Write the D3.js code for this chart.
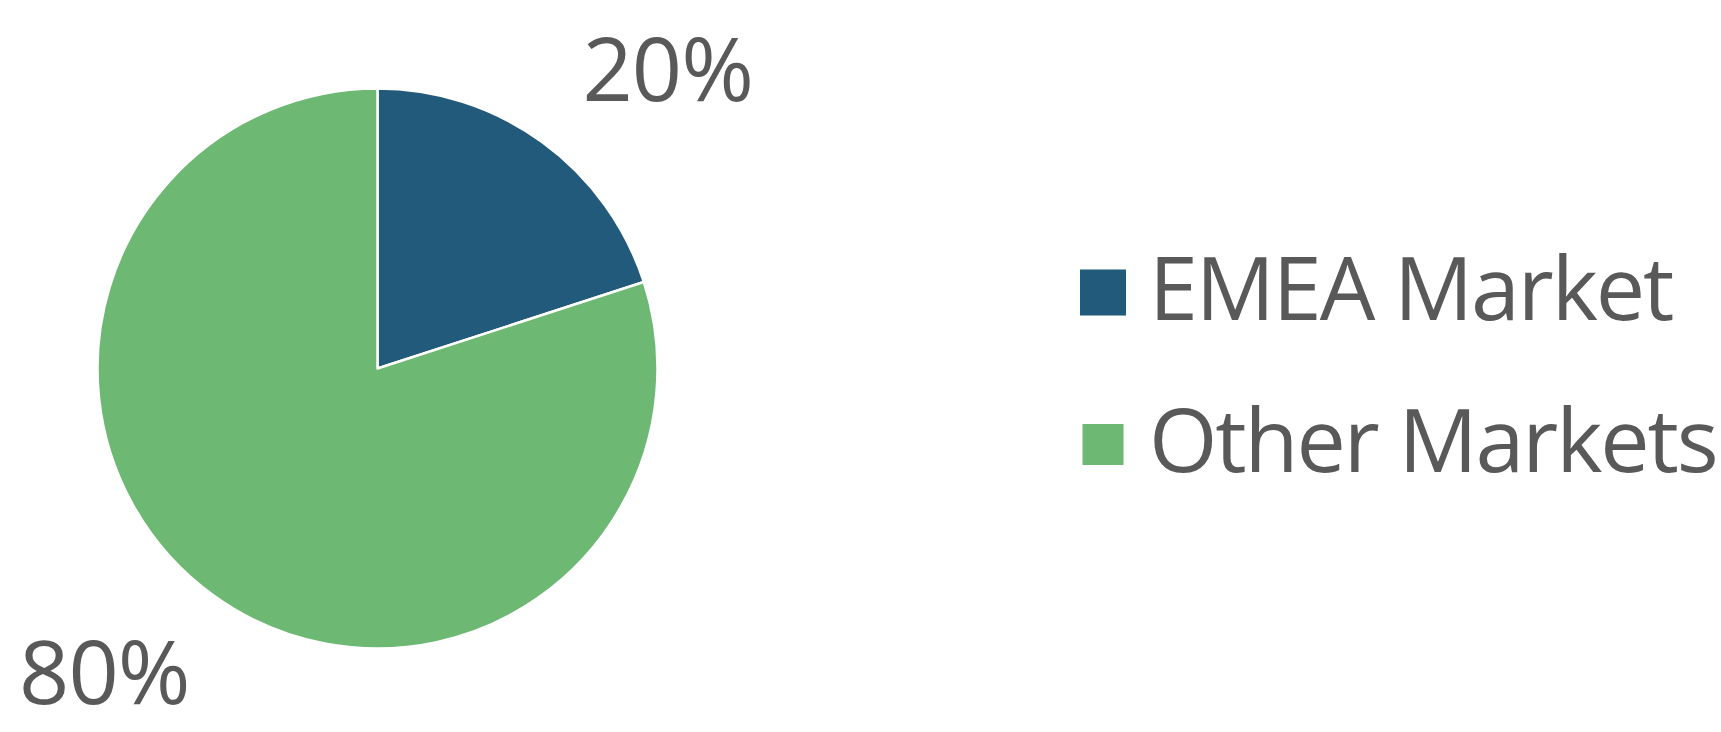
<!DOCTYPE html>
<html>
<head>
<meta charset="utf-8">
<script src="https://cdn.jsdelivr.net/npm/d3@7"></script>
<style>
  body { margin: 0; background: #fff; }
  svg { display: block; }
  text { font-family: "Open Sans", "Noto Sans", sans-serif; fill: #595959; }
</style>
</head>
<body>
<svg id="chart"></svg>
<script>
const categories = ["EMEA Market", "Other Markets"];
const shares = [20, 80];
const sliceColors = ["#215a7b", "#6db872"];

const WIDTH = 1721;
const HEIGHT = 732;

const CX = 377.5;
const CY = 368.5;
const RADIUS = 280;
const FONT_SIZE = 88;

const data = categories.map((c, i) => ({ name: c, value: shares[i], color: sliceColors[i] }));

const svg = d3.select('#chart').attr('width', WIDTH).attr('height', HEIGHT);

const pie = d3.pie().sort(null).value(d => d.value);
const arc = d3.arc().innerRadius(0).outerRadius(RADIUS);
// labels sit outside the pie, pushed out along the slice direction
const labelArc = d3.arc().innerRadius(RADIUS * 1.49).outerRadius(RADIUS * 1.49);

const arcs = pie(data);

const pieGroup = svg.append('g').attr('transform', `translate(${CX}, ${CY})`);

pieGroup.selectAll('path')
    .data(arcs)
    .join('path')
    .attr('d', arc)
    .attr('fill', d => d.data.color)
    .attr('stroke', '#fff')
    .attr('stroke-width', 2.5)
    .attr('stroke-linejoin', 'round');

// small nudges so the labels land where the best-fit placement put them
const labelNudge = { "EMEA Market": [45, 70], "Other Markets": [-28, -2] };

pieGroup.selectAll('text.pct')
    .data(arcs)
    .join('text')
    .attr('class', 'pct')
    .attr('x', d => labelArc.centroid(d)[0] + labelNudge[d.data.name][0])
    .attr('y', d => labelArc.centroid(d)[1] + labelNudge[d.data.name][1])
    .attr('text-anchor', 'middle')
    .attr('font-size', FONT_SIZE)
    .attr('letter-spacing', -1)
    .text(d => `${d.data.value}%`);

// legend
const legendY = d3.scalePoint().domain(categories).range([320, 472]);
const keySize = { "EMEA Market": 46, "Other Markets": 41 }; // the two keys are not quite the same size

const legend = svg.append('g')
    .selectAll('g')
    .data(data)
    .join('g')
    .attr('transform', d => `translate(0, ${legendY(d.name)})`);

legend.append('rect')
    .attr('x', d => 1103 - keySize[d.name] / 2)
    .attr('y', d => -27.5 - keySize[d.name] / 2)
    .attr('width', d => keySize[d.name])
    .attr('height', d => keySize[d.name])
    .attr('fill', d => d.color);

legend.append('text')
    .attr('x', 1149)
    .attr('y', 0)
    .attr('font-size', FONT_SIZE)
    .attr('letter-spacing', -2.1)
    .text(d => d.name);
</script>
</body>
</html>
